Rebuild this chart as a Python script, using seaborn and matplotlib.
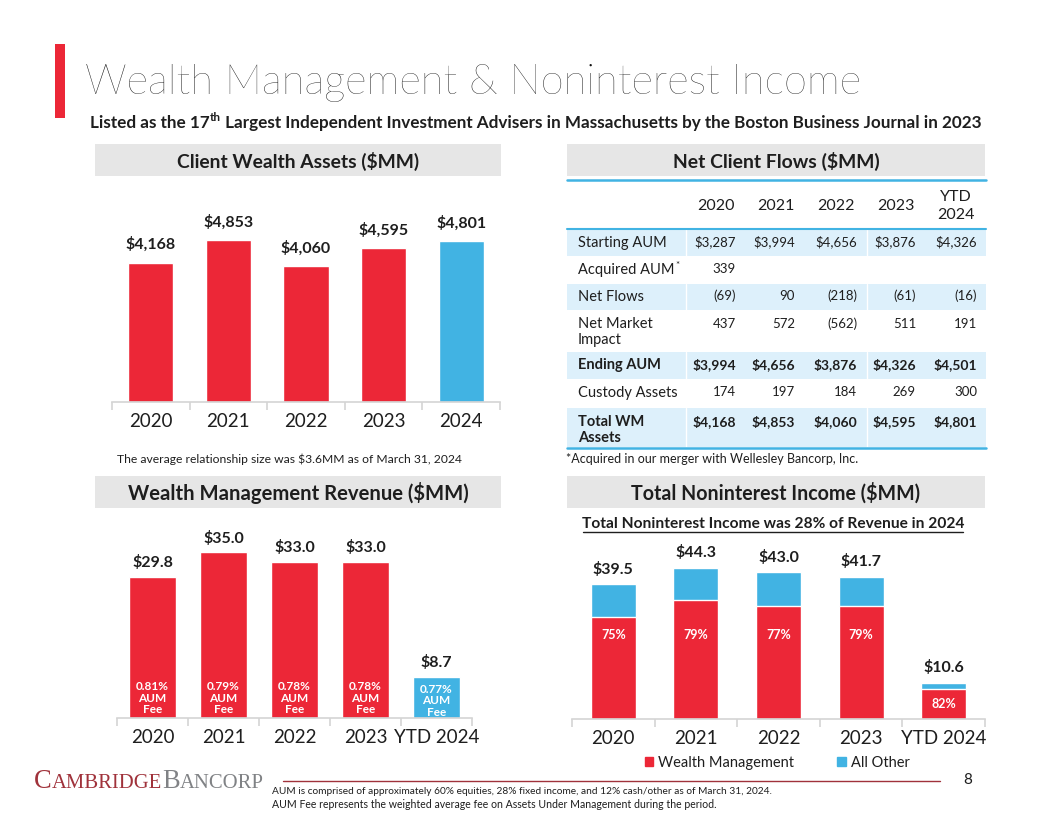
import numpy as np
import pandas as pd
import matplotlib
matplotlib.use("Agg")
import matplotlib.pyplot as plt
from matplotlib.patches import Rectangle, Patch
import seaborn as sns

# ---------------- data ----------------
years = ["2020", "2021", "2022", "2023", "2024"]
client_assets = [4168, 4853, 4060, 4595, 4801]

rev_cats = ["2020", "2021", "2022", "2023", "YTD 2024"]
wm_revenue = [29.8, 35.0, 33.0, 33.0, 8.7]
aum_fee = ["0.81%", "0.79%", "0.78%", "0.78%", "0.77%"]

nonint_total = [39.5, 44.3, 43.0, 41.7, 10.6]
wm_share = ["75%", "79%", "77%", "79%", "82%"]

table_cols = ["2020", "2021", "2022", "2023", "YTD\n2024"]
starting_aum = ["$3,287", "$3,994", "$4,656", "$3,876", "$4,326"]
acquired_aum = ["339", "", "", "", ""]
net_flows = ["(69)", "90", "(218)", "(61)", "(16)"]
net_market = ["437", "572", "(562)", "511", "191"]
ending_aum = ["$3,994", "$4,656", "$3,876", "$4,326", "$4,501"]
custody = ["174", "197", "184", "269", "300"]
total_wm = ["$4,168", "$4,853", "$4,060", "$4,595", "$4,801"]

# ---------------- style ----------------
sns.set_theme(style="white")
plt.rcParams["font.family"] = ["Lato", "DejaVu Sans"]

RED = "#EC2737"
BLUE = "#41B3E3"
BOX = "#E6E6E6"
BAND = "#DDF0FB"
TXT = "#1E1E1E"
LOGO_RED = "#A0323B"
LOGO_GRAY = "#808285"

W, H = 1056, 816
fig = plt.figure(figsize=(W / 100, H / 100), dpi=100)
fig.patch.set_facecolor("white")
renderer = fig.canvas.get_renderer()

bg = fig.add_axes([0, 0, 1, 1])
bg.set_xlim(0, W)
bg.set_ylim(H, 0)
bg.axis("off")


def wpx(t):
    return t.get_window_extent(renderer).width


def fit(t, target):
    t.set_fontsize(t.get_fontsize() * target / wpx(t))
    return t


def T(x, y, s, **kw):
    kw.setdefault("color", TXT)
    return bg.text(x, y, s, **kw)


def seq(x, y, parts, target=None):
    """parts: list of (text, size, kwargs); placed side by side on a baseline."""
    def build(scale):
        out = []
        cx = x
        for s, size, kw in parts:
            kw = dict(kw)
            dy = kw.pop("dy", 0) * scale
            kw.setdefault("color", TXT)
            t = bg.text(cx, y + dy, s, fontsize=size * scale, va="baseline", ha="left", **kw)
            cx += wpx(t)
            out.append(t)
        return out, cx
    out, end = build(1.0)
    if target is not None:
        total = end - x
        for t in out:
            t.remove()
        out, end = build(target / total)
    return out, end


def add_ax(x0, y0, x1, y1):
    ax = fig.add_axes([x0 / W, 1 - y1 / H, (x1 - x0) / W, (y1 - y0) / H])
    ax.set_facecolor("none")
    return ax


def style_cat_axis(ax, n, fs):
    for s in ["top", "left", "right"]:
        ax.spines[s].set_visible(False)
    ax.spines["bottom"].set_color("#D4D4D4")
    ax.spines["bottom"].set_linewidth(1.2)
    ax.set_yticks([])
    ax.set_xlim(-0.5, n - 0.5)
    ax.set_xticks(np.arange(-0.5, n, 1), minor=True)
    ax.tick_params(axis="x", which="minor", bottom=True, length=6, width=1.2, color="#D4D4D4")
    ax.tick_params(axis="x", which="major", bottom=False, length=0, pad=8, labelsize=fs, labelcolor=TXT)
    ax.set_xlabel("")
    ax.set_ylabel("")


# ---------------- header ----------------
bg.add_patch(Rectangle((55, 44), 10, 74, color=RED, lw=0))
fit(T(85, 94, "Wealth Management & Noninterest Income", fontsize=30, fontweight="light",
      va="baseline", color="#111111"), 775)

seq(90, 128, [
    ("Listed as the 17", 11, dict(fontweight="bold")),
    ("th", 7.5, dict(fontweight="bold", dy=-6)),
    (" Largest Independent Investment Advisers in Massachusetts by the Boston Business Journal in 2023",
     11, dict(fontweight="bold")),
], target=892)

# section header boxes
def section(x0, x1, y0, y1, label, tw):
    bg.add_patch(Rectangle((x0, y0), x1 - x0, y1 - y0, color=BOX, lw=0))
    fit(T((x0 + x1) / 2, (y0 + y1) / 2 + 1, label, fontsize=13, fontweight="bold",
          ha="center", va="center"), tw)

section(95, 501, 144, 176, "Client Wealth Assets ($MM)", 242)
section(567, 985, 144, 176, "Net Client Flows ($MM)", 207)
section(95, 501, 476, 508, "Wealth Management Revenue ($MM)", 340)
section(567, 985, 476, 508, "Total Noninterest Income ($MM)", 288)

# ---------------- Client Wealth Assets ----------------
ax1 = add_ax(112, 200, 500, 402)
df1 = pd.DataFrame({"year": years, "val": client_assets})
sns.barplot(data=df1, x="year", y="val", hue="year", palette=[RED] * 4 + [BLUE],
            legend=False, width=0.58, saturation=1, ax=ax1)
ax1.set_ylim(0, 6040)
style_cat_axis(ax1, len(years), 13.5)
for i, v in enumerate(client_assets):
    ax1.annotate(f"${v:,}", (i, v), xytext=(0, 18 * 0.72), textcoords="offset points",
                 ha="center", va="center", fontsize=11.5, fontweight="bold", color=TXT)

fit(T(117, 459, "The average relationship size was $3.6MM as of March 31, 2024",
      fontsize=9.5, va="center"), 346)

# ---------------- Net Client Flows table ----------------
TX0, TX1 = 567, 986
col_center = [716, 776, 836, 896, 956]
col_right = [736, 795, 857, 916, 977]

bg.plot([TX0, TX1], [180, 180], color=BLUE, lw=1.8)
for j, c in enumerate(table_cols):
    T(col_center[j], 206, c, fontsize=11.5, ha="center", va="center", linespacing=1.35)

rows = [
    ("Starting AUM", starting_aum, 229, 256, True, False),
    ("Acquired AUM", acquired_aum, 256, 284, False, False),
    ("Net Flows", net_flows, 284, 310, True, False),
    ("Net Market\nImpact", net_market, 310, 352, False, False),
    ("Ending AUM", ending_aum, 352, 379, True, True),
    ("Custody Assets", custody, 379, 408, False, False),
    ("Total WM\nAssets", total_wm, 408, 447, True, True),
]
for label, vals, y0, y1, band, bold in rows:
    if band:
        bg.add_patch(Rectangle((TX0, y0), TX1 - TX0, y1 - y0, color=BAND, lw=0))
        for xs in (686, 867):
            bg.plot([xs, xs], [y0, y1], color="white", lw=1)
    fw = "bold" if bold else "normal"
    two = "\n" in label
    ly = y0 + 14 if two else (y0 + y1) / 2
    t = T(578, ly, label, fontsize=10.5, fontweight=fw, va="center" if not two else "top",
          linespacing=1.15)
    if two:
        t.set_y(y0 + 7)
    if label == "Acquired AUM":
        T(578 + wpx(t) + 1, ly - 4, "*", fontsize=7, va="center")
    vy = (y0 + 14) if two else (y0 + y1) / 2 - 1
    for j, v in enumerate(vals):
        if v:
            T(col_right[j], vy, v, fontsize=10 if bold else 9.5, fontweight=fw,
              ha="right", va="center")

bg.plot([TX0, TX1], [228.5, 228.5], color=BLUE, lw=1.5)
bg.plot([TX0, TX1], [448, 448], color=BLUE, lw=1.8)
fit(T(566, 459, "*Acquired in our merger with Wellesley Bancorp, Inc.", fontsize=9.5,
      va="center"), 292)

# ---------------- Wealth Management Revenue ----------------
ax3 = add_ax(117, 520, 472, 718)
df3 = pd.DataFrame({"cat": rev_cats, "val": wm_revenue})
sns.barplot(data=df3, x="cat", y="val", hue="cat", palette=[RED] * 4 + [BLUE],
            legend=False, width=0.66, saturation=1, ax=ax3)
ax3.set_ylim(0, 41.8)
style_cat_axis(ax3, len(rev_cats), 13.5)
for i, v in enumerate(wm_revenue):
    ax3.annotate(f"${v:.1f}", (i, v), xytext=(0, 14 * 0.72), textcoords="offset points",
                 ha="center", va="center", fontsize=11.5, fontweight="bold", color=TXT)
    off = 20 if i < 4 else 17
    ax3.annotate(f"{aum_fee[i]}\nAUM\nFee", (i, 0), xytext=(0, off * 0.72),
                 textcoords="offset points", ha="center", va="center", fontsize=8.5,
                 fontweight="bold", color="white", linespacing=1.05)

# ---------------- Total Noninterest Income ----------------
_, _ = None, None
sub = T(773, 528, "Total Noninterest Income was 28% of Revenue in 2024", fontsize=11,
        fontweight="bold", ha="center", va="baseline")
fit(sub, 380)
bg.plot([583, 963], [531.5, 531.5], color=TXT, lw=1)

ax4 = add_ax(572, 540, 985, 719)
df4 = pd.DataFrame({"cat": rev_cats, "total": nonint_total, "wm": wm_revenue})
sns.barplot(data=df4, x="cat", y="total", color=BLUE, width=0.545, saturation=1, ax=ax4)
sns.barplot(data=df4, x="cat", y="wm", color=RED, width=0.545, saturation=1, ax=ax4)
ax4.set_ylim(0, 52.5)
style_cat_axis(ax4, len(rev_cats), 13.5)
for i, v in enumerate(nonint_total):
    ax4.annotate(f"${v:.1f}", (i, v), xytext=(0, 15 * 0.72), textcoords="offset points",
                 ha="center", va="center", fontsize=11.5, fontweight="bold", color=TXT)
    wm = wm_revenue[i]
    if wm > 15:
        ax4.annotate(wm_share[i], (i, 0), xytext=(0, 84 * 0.72), textcoords="offset points",
                     ha="center", va="center", fontsize=9, fontweight="bold", color="white")
    else:
        ax4.annotate(wm_share[i], (i, wm / 2), ha="center", va="center", fontsize=9,
                     fontweight="bold", color="white")

handles = [Patch(color=RED, label="Wealth Management"), Patch(color=BLUE, label="All Other")]
fig.legend(handles=handles, loc="center", bbox_to_anchor=(777 / W, 1 - 763 / H), ncol=2,
           frameon=False, fontsize=10.5, handlelength=0.6, handleheight=0.6,
           handletextpad=0.3, columnspacing=3.0, labelcolor=TXT)

# ---------------- footer ----------------
seq(34, 788, [
    ("C", 20, dict(family="Liberation Serif", color=LOGO_RED)),
    ("AMBRIDGE", 15.5, dict(family="Liberation Serif", color=LOGO_RED)),
    ("B", 20, dict(family="Liberation Serif", color=LOGO_GRAY)),
    ("ANCORP", 15.5, dict(family="Liberation Serif", color=LOGO_GRAY)),
], target=228)
bg.plot([283, 940], [781, 781], color=LOGO_RED, lw=1)
T(968, 780, "8", fontsize=11, ha="center", va="center")
fit(T(272, 791, "AUM is comprised of approximately 60% equities, 28% fixed income, and 12% cash/other as of March 31, 2024.",
      fontsize=7, va="center"), 501)
fit(T(272, 805, "AUM Fee represents the weighted average fee on Assets Under Management during the period.",
      fontsize=7, va="center"), 444)

fig.savefig("out.png", dpi=100, facecolor="white")
